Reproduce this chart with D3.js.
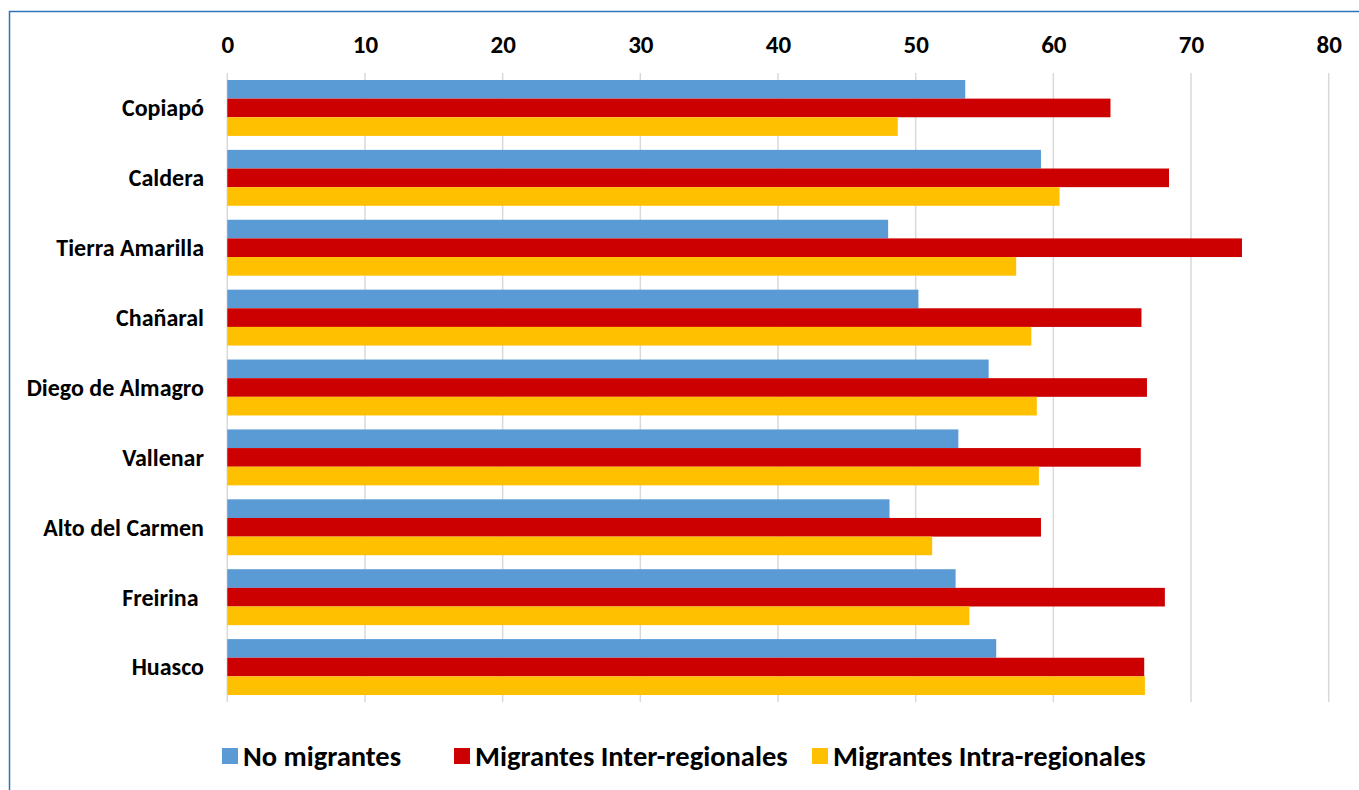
<!DOCTYPE html>
<html lang="es">
<head>
    <meta charset="UTF-8">
    <title>Migrantes por comuna</title>
    <style>
        body {
            margin: 0;
            background: #fff;
        }
        svg text {
            font-family: Carlito, Calibri, 'Liberation Sans Narrow', 'Open Sans', sans-serif;
            font-weight: bold;
            fill: #000;
            white-space: pre;
        }
    </style>
</head>
<body>
<script src="https://cdn.jsdelivr.net/npm/d3@7"></script>
<script>

    var comunas = ['Copiapó', 'Caldera', 'Tierra Amarilla', 'Chañaral', 'Diego de Almagro',
        'Vallenar', 'Alto del Carmen', 'Freirina ', 'Huasco'];

    var noMigrantes = [53.6, 59.1, 48.0, 50.2, 55.3, 53.1, 48.1, 52.9, 55.85];
    var interRegionales = [64.15, 68.4, 73.7, 66.4, 66.8, 66.35, 59.1, 68.1, 66.6];
    var intraRegionales = [48.7, 60.45, 57.3, 58.4, 58.8, 58.95, 51.2, 53.9, 66.65];

    var seriesNames = ['No migrantes', 'Migrantes Inter-regionales', 'Migrantes Intra-regionales'];
    var seriesColors = ['#5b9bd5', '#cc0000', '#ffc000'];
    var ticks = [0, 10, 20, 30, 40, 50, 60, 70, 80];

    var width = 1359,
        height = 790;

    var svg = d3.select('body').append('svg')
        .attr('width', width)
        .attr('height', height);

    // marco
    svg.append('path')
        .attr('d', 'M9.5,' + height + 'V11.5H' + width)
        .attr('fill', 'none')
        .attr('stroke', '#2e75b6')
        .attr('stroke-width', 1.5);

    var x = d3.scaleLinear()
        .domain([0, 80])
        .range([227.3, 1328.7]);

    var y = d3.scaleBand()
        .domain(comunas)
        .range([73, 702])
        .paddingInner(0.2)
        .paddingOuter(0.1);

    var y1 = d3.scaleBand()
        .domain(d3.range(3))
        .range([0, y.bandwidth()]);

    // grilla
    svg.append('g')
        .selectAll('line')
        .data(ticks)
        .enter()
        .append('line')
        .attr('x1', d => x(d))
        .attr('x2', d => x(d))
        .attr('y1', 73)
        .attr('y2', 702)
        .attr('stroke', '#d9d9d9')
        .attr('stroke-width', 1.5);

    var xAxis = svg.append('g')
        .attr('transform', 'translate(0,44)')
        .call(d3.axisTop(x).tickValues(ticks).tickSize(0).tickPadding(0));
    xAxis.select('.domain').remove();
    xAxis.selectAll('text')
        .attr('font-size', 25)
        .attr('dy', '0.35em');

    var yAxis = svg.append('g')
        .attr('transform', 'translate(204,0)')
        .call(d3.axisLeft(y).tickSize(0).tickPadding(0));
    yAxis.select('.domain').remove();
    yAxis.selectAll('text')
        .attr('font-size', 24)
        .attr('dy', '0.35em');

    var series = [noMigrantes, interRegionales, intraRegionales];

    var groups = svg.append('g')
        .selectAll('g')
        .data(comunas)
        .enter()
        .append('g')
        .attr('transform', d => 'translate(0,' + y(d) + ')');

    groups.selectAll('rect')
        .data((d, i) => series.map((s, k) => ({ k: k, v: s[i] })))
        .enter()
        .append('rect')
        .attr('x', x(0))
        .attr('y', d => y1(d.k))
        .attr('width', d => x(d.v) - x(0))
        .attr('height', y1.bandwidth())
        .attr('fill', d => seriesColors[d.k]);

    // leyenda
    var legendX = [222, 454, 812];

    var legend = svg.append('g')
        .selectAll('g')
        .data(seriesNames)
        .enter()
        .append('g')
        .attr('transform', (d, i) => 'translate(' + legendX[i] + ',748)');

    legend.append('rect')
        .attr('width', 16)
        .attr('height', 16)
        .attr('fill', (d, i) => seriesColors[i]);

    legend.append('text')
        .attr('x', 21)
        .attr('y', 8)
        .attr('dy', '0.35em')
        .attr('font-size', 28.5)
        .text(d => d);

</script>
</body>
</html>
